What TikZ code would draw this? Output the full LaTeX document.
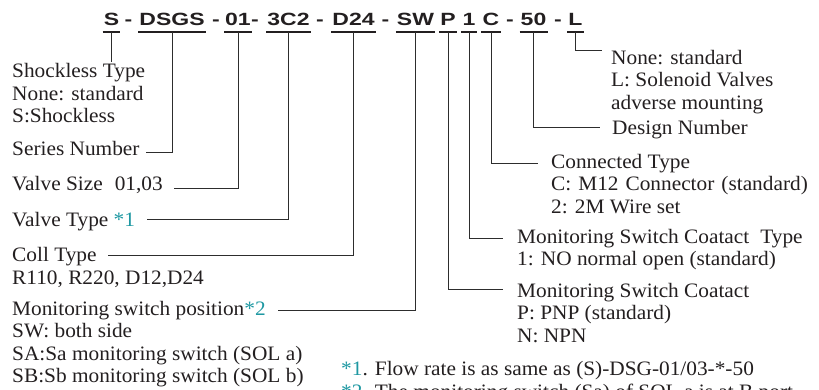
\documentclass[tikz,border=0pt]{standalone}
\usepackage{fontspec}
\setmainfont{Liberation Serif}[FakeStretch=1.04]
\newfontfamily\codefont{Liberation Sans}
\usepackage{graphicx}
\definecolor{ink}{RGB}{35,31,32}
\definecolor{teal2}{RGB}{30,152,162}
\definecolor{wire}{RGB}{45,45,45}
\newcommand{\cd}[1]{\scalebox{1.3}[1]{#1}}
\newcommand{\st}[1]{\textcolor{teal2}{#1}}
\begin{document}
\begin{tikzpicture}[x=1pt,y=-1pt,
  code/.style={inner xsep=1pt,inner ysep=0pt,text height=12.7pt,text depth=6pt,anchor=base,
    font=\codefont\bfseries\fontsize{17.7}{18}\selectfont,text=ink},
  dashc/.style={inner sep=0pt,anchor=base,font=\codefont\bfseries\fontsize{17.7}{18}\selectfont,text=ink},
  lbl/.style={inner sep=0pt,anchor=base west,font=\fontsize{20.5}{22.5}\selectfont,text=ink},
  wireline/.style={draw=wire,line width=0.9pt},
  uline/.style={draw=ink,line width=1.7pt}]
\useasboundingbox (0,0) rectangle (819,390);
\clip (0,0) rectangle (819,390);
% code
\node[code] (cS) at (111.5,26) {\cd{S}};
\node[dashc] (d1) at (128.5,26) {\cd{-}};
\node[code] (cDSGS) at (172,26) {\cd{DSGS}};
\node[dashc] (d2) at (216,26) {\cd{-}};
\node[code] (c01) at (238,26) {\cd{01}};
\node[dashc] (d3) at (255,26) {\cd{-}};
\node[code] (c3C2) at (288.5,26) {\cd{3C2}};
\node[dashc] (d4) at (320,26) {\cd{-}};
\node[code] (cD24) at (353.5,26) {\cd{D24}};
\node[dashc] (d5) at (385.5,26) {\cd{-}};
\node[code] (cSW) at (415.5,26) {\cd{SW}};
\node[code] (cP) at (448,26) {\cd{P}};
\node[code] (c1) at (469,26) {\cd{1}};
\node[code] (cC) at (491,26) {\cd{C}};
\node[dashc] (d6) at (510,26) {\cd{-}};
\node[code] (c50) at (533.5,26) {\cd{50}};
\node[dashc] (d7) at (558,26) {\cd{-}};
\node[code] (cL) at (575.5,26) {\cd{L}};
\foreach \n in {cS,cDSGS,c01,c3C2,cD24,cSW,cP,c1,cC,c50,cL}
  \draw[uline] (\n.south west) -- (\n.south east);
% left labels
\node[lbl] (shock) at (12,77.7) {\begin{tabular}[t]{@{}l@{}}Shockless Type\\None: standard\\S:Shockless\end{tabular}};
\node[lbl] (series) at (12,156) {Series Number};
\node[lbl] (vsize) at (12,190.5) {Valve Size\hspace{12pt}01,03};
\node[lbl] (vtype) at (12,226) {Valve Type \st{*1}};
\node[lbl] (coil) at (12,261.5) {\begin{tabular}[t]{@{}l@{}}Coll Type\\R110, R220, D12,D24\end{tabular}};
\node[lbl] (mpos) at (12,315) {\begin{tabular}[t]{@{}l@{}}Monitoring switch position\st{*2}\\SW: both side\\SA:Sa monitoring switch (SOL a)\\SB:Sb monitoring switch (SOL b)\end{tabular}};
% right labels
\node[lbl] (lopt) at (611,64.5) {\begin{tabular}[t]{@{}l@{}}None: standard\\L: Solenoid Valves\\adverse mounting\end{tabular}};
\node[lbl] (design) at (612,135) {Design Number};
\node[lbl] (conn) at (551,168.5) {\begin{tabular}[t]{@{}l@{}}Connected Type\\C:\hspace{7pt}M12\hspace{7pt}Connector\hspace{7pt}(standard)\\2: 2M Wire set\end{tabular}};
\node[lbl] (mtype) at (517,243.5) {\begin{tabular}[t]{@{}l@{}}Monitoring Switch Coatact\hspace{11pt}Type\\1: NO normal open (standard)\end{tabular}};
\node[lbl] (mcont) at (517,297) {\begin{tabular}[t]{@{}l@{}}Monitoring Switch Coatact\\P: PNP (standard)\\N: NPN\end{tabular}};
\node[lbl] (note) at (341,375.5) {\begin{tabular}[t]{@{}l@{}}\st{*1}. Flow rate is as same as (S)-DSG-01/03-*-50\\\st{*2}. The monitoring switch (Sa) of SOL a is at B port\end{tabular}};
% connector ends
\coordinate (eS) at (111.5,62);
\coordinate (eDSGS) at (146,152);
\coordinate (e01) at (174,188);
\coordinate (e3C2) at (147,219);
\coordinate (eD24) at (108,255);
\coordinate (eSW) at (278,310);
\coordinate (eP) at (503,289);
\coordinate (e1) at (503,238);
\coordinate (eC) at (538,163);
\coordinate (e50) at (600,127);
\coordinate (eL) at (602,50);
% connectors
\draw[wireline] (cS.south) -- (eS);
\draw[wireline] (cDSGS.south) |- (eDSGS);
\draw[wireline] (c01.south) |- (e01);
\draw[wireline] (c3C2.south) |- (e3C2);
\draw[wireline] (cD24.south) |- (eD24);
\draw[wireline] (cSW.south) |- (eSW);
\draw[wireline] (cP.south) |- (eP);
\draw[wireline] (c1.south) |- (e1);
\draw[wireline] (cC.south) |- (eC);
\draw[wireline] (c50.south) |- (e50);
\draw[wireline] (cL.south) |- (eL);
\end{tikzpicture}
\end{document}
